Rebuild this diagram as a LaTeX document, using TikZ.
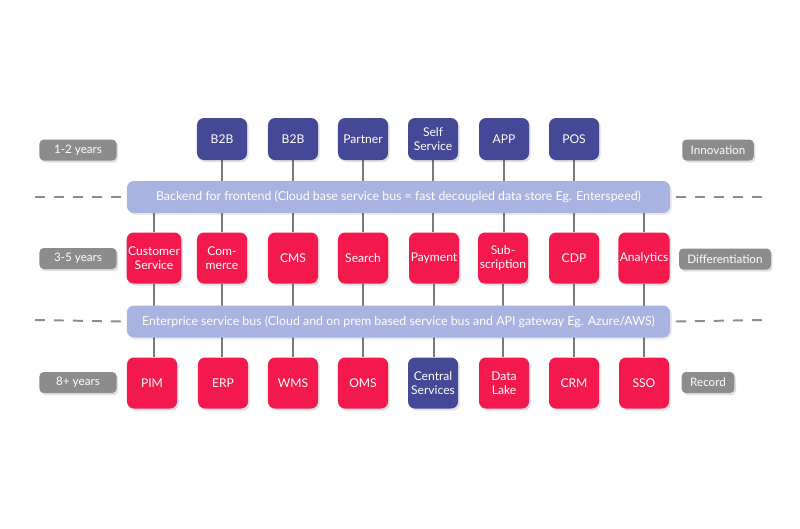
\documentclass[tikz,border=0pt]{standalone}
\usepackage{fontspec}
\setmainfont{Lato}
\usepackage{tikz}
\usetikzlibrary{positioning, backgrounds, shadows}
\definecolor{navy}{HTML}{454896}
\definecolor{rose}{HTML}{F4194D}
\definecolor{busblue}{HTML}{A9B3E1}
\definecolor{tagrey}{HTML}{8C8C8C}
\definecolor{wire}{HTML}{7A7A7A}

\begin{document}
\begin{tikzpicture}[
    x=0.025cm, y=-0.025cm,
    box/.style={rectangle, rounded corners=5pt, text=white, align=center,
                font=\fontsize{8.6}{10}\selectfont, inner xsep=1pt,
                drop shadow={shadow xshift=1.2pt, shadow yshift=-1.5pt,
                             fill=black, opacity=0.12}},
    front/.style={box, fill=navy, minimum width=1.25cm, minimum height=1.05cm},
    core/.style={box, fill=rose, minimum width=1.25cm, minimum height=1.275cm},
    bus/.style={rectangle, rounded corners=5pt, fill=busblue, text=white,
                minimum width=13.575cm, minimum height=0.8cm,
                font=\fontsize{8.8}{10}\selectfont,
                drop shadow={shadow xshift=1.2pt, shadow yshift=-1.5pt,
                             fill=black, opacity=0.08}},
    tag/.style={rectangle, rounded corners=3pt, fill=tagrey, text=white,
                minimum height=0.525cm, inner xsep=6pt,
                font=\fontsize{8.3}{9.5}\selectfont,
                drop shadow={shadow xshift=1.2pt, shadow yshift=-1.5pt,
                             fill=black, opacity=0.12}},
    years/.style={tag, minimum width=1.925cm},
    link/.style={line width=1.1pt, wire},
    sep/.style={line width=1.4pt, tagrey, dash pattern=on 7pt off 6.5pt},
]
  \useasboundingbox (0,0) rectangle (800,528);

  %% ---- channels (top row) ----
  \node[front] (t2) at (222,139) {B2B};
  \node[front] (t3) at (293,139) {B2B};
  \node[front] (t4) at (363,139) {Partner};
  \node[front] (t5) at (433,139) {Self\\Service};
  \node[front] (t6) at (504,139) {APP};
  \node[front] (t7) at (574,139) {POS};

  %% ---- buses ----
  \node[bus] (bff) at (398.5,197)
    {Backend for frontend (Cloud base service bus = fast decoupled data store Eg. Enterspeed)};
  \node[bus] (esb) at (398.5,321.5)
    {Enterprice service bus (Cloud and on prem based service bus and API gateway Eg. Azure/AWS)};

  %% ---- differentiation row ----
  \node[core] (m1) at (154,258) {Customer\\Service};
  \node[core] (m2) at (222,258) {Com-\\merce};
  \node[core] (m3) at (293,258) {CMS};
  \node[core] (m4) at (363,258) {Search};
  \node[core] (m5) at (434,258) {Payment};
  \node[core] (m6) at (503,258) {Sub-\\scription};
  \node[core] (m7) at (574,258) {CDP};
  \node[core] (m8) at (644,258) {Analytics};

  %% ---- record row ----
  \node[core]  (r1) at (152,383) {PIM};
  \node[core]  (r2) at (223,383) {ERP};
  \node[core]  (r3) at (293,383) {WMS};
  \node[core]  (r4) at (363,383) {OMS};
  \node[front, minimum height=1.275cm] (r5) at (433,383) {Central\\Services};
  \node[core]  (r6) at (504,383) {Data\\Lake};
  \node[core]  (r7) at (574,383) {CRM};
  \node[core]  (r8) at (644,383) {SSO};

  %% ---- side labels ----
  \node[years] (y1) at (78,150)   {1-2 years};
  \node[years] (y2) at (78,258.5) {3-5 years};
  \node[years] (y3) at (78,382.5) {8+ years};
  \node[tag]   (l1) at (718,150)  {Innovation};
  \node[tag]   (l2) at (725,259)  {Differentiation};
  \node[tag]   (l3) at (708,382.5) {Record};

  %% ---- dashed layer borders ----
  \coordinate (bffl) at (35,197);
  \coordinate (bffr) at (762,197);
  \coordinate (esbl) at (35,320);
  \coordinate (esbr) at (762,320);
  \draw[sep] (bffl) -- ([xshift=-4pt]bff.west);
  \draw[sep] ([xshift=4pt]bff.east) -- (bffr);
  \draw[sep] (esbl) -- ([xshift=-4pt]esb.west);
  \draw[sep] ([xshift=4pt]esb.east) -- (esbr);

  %% ---- vertical wires, behind boxes and buses ----
  \begin{scope}[on background layer]
    \foreach \i in {2,...,7}
      \draw[link] (t\i.south) -- (t\i.south |- m\i.north);
    \draw[link] (m1.north) -- (m1.north |- bff.south);
    \draw[link] (m8.north) -- (m8.north |- bff.south);
    \foreach \i in {1,...,8}
      \draw[link] (m\i.south) -- (m\i.south |- r\i.north);
  \end{scope}

\end{tikzpicture}
\end{document}
